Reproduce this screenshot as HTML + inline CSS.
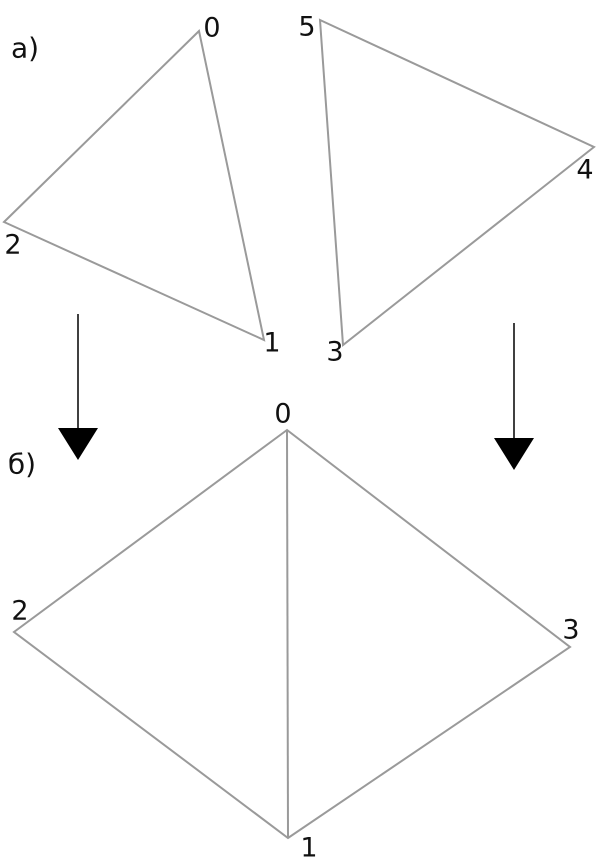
<!DOCTYPE html>
<html><head><meta charset="utf-8"><style>
html,body{margin:0;padding:0;background:#fff;}
svg{display:block}
text{font-family:"DejaVu Sans","Liberation Sans",sans-serif;font-size:27px;fill:#111;text-anchor:middle;dominant-baseline:central}
</style></head><body>
<svg width="600" height="863" viewBox="0 0 600 863">
<g fill="none" stroke="#9a9a9a" stroke-width="2">
<polygon points="199,31 4,222 264,340"/>
<polygon points="320,20 594,147 343,345"/>
<polygon points="287,430 14,632 288,838 570,647"/>
<line x1="287" y1="430" x2="288" y2="838"/>
</g>
<g stroke="#000" stroke-width="1.5">
<line x1="78" y1="314" x2="78" y2="432"/>
<line x1="514" y1="323" x2="514" y2="442"/>
</g>
<polygon points="58,428 98,428 78,460" fill="#000"/>
<polygon points="494,438 534,438 514,470" fill="#000"/>
<text x="212" y="28">0</text>
<text x="13" y="245">2</text>
<text x="272" y="343">1</text>
<text x="307" y="27">5</text>
<text x="585" y="170">4</text>
<text x="335" y="352">3</text>
<text x="283" y="414">0</text>
<text x="20" y="611">2</text>
<text x="571" y="630">3</text>
<text x="309" y="848">1</text>
<text x="25" y="48" style="font-size:28px">а)</text>
<text x="22" y="464" style="font-size:28px">б)</text>
</svg>
</body></html>
